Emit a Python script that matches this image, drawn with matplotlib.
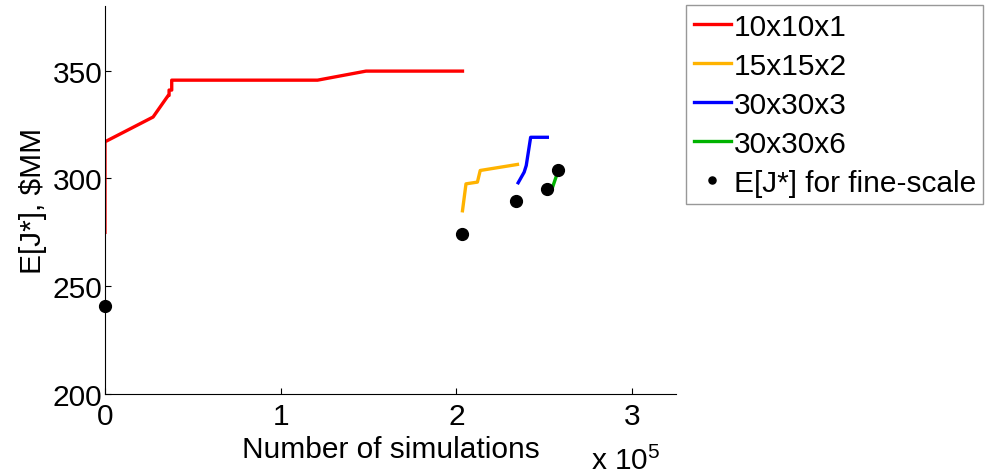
import matplotlib
matplotlib.use("Agg")
import matplotlib.pyplot as plt
from matplotlib.ticker import FixedLocator, FixedFormatter

plt.rcParams['font.family'] = ['Liberation Sans', 'DejaVu Sans']
plt.rcParams['mathtext.fontset'] = 'custom'
plt.rcParams['mathtext.rm'] = 'Liberation Sans'
plt.rcParams['mathtext.it'] = 'Liberation Sans'

# Optimisation history for each coarse grid: number of simulations vs. E[J*]
sims_10x10x1 = [0, 0, 27400, 36000, 36500, 36500, 38000, 38000, 121000, 148600, 203500]
ej_10x10x1 = [275, 317, 328.5, 338.5, 338.5, 341, 341, 345.6, 345.6, 349.8, 349.8]

sims_15x15x2 = [203500, 205500, 212000, 213600, 234800]
ej_15x15x2 = [285, 297.5, 298.3, 303.7, 306.5]

sims_30x30x3 = [235200, 238600, 239800, 242300, 251800]
ej_30x30x3 = [298, 302.9, 306, 319.1, 319.1]

sims_30x30x6 = [254600, 256900]
ej_30x30x6 = [295.5, 301]

# Fine-scale evaluation of the optimum found at each stage
sims_fine = [0, 203500, 234200, 251400, 258000]
ej_fine = [240.9, 274.3, 289.7, 295.2, 303.7]

x_ticks = [0, 100000, 200000, 300000]
x_tick_labels = ["0", "1", "2", "3"]
y_ticks = [200, 250, 300, 350]

FS = 21.5

fig = plt.figure(figsize=(9.93, 4.77), dpi=100)
ax = fig.add_axes([0.1057, 0.1719, 0.575, 0.8134])

lw = 2.4
ax.plot(sims_10x10x1, ej_10x10x1, color=(1, 0, 0), lw=lw, label="10x10x1")
ax.plot(sims_15x15x2, ej_15x15x2, color=(1, 0.7, 0), lw=lw, label="15x15x2")
ax.plot(sims_30x30x3, ej_30x30x3, color=(0, 0, 1), lw=lw, label="30x30x3")
ax.plot(sims_30x30x6, ej_30x30x6, color=(0, 0.7, 0), lw=lw, label="30x30x6")
ax.plot(sims_fine, ej_fine, linestyle="none", marker="o", markersize=8.5,
        color="black", label="E[J*] for fine-scale", clip_on=False, zorder=5)

ax.set_xlim(0, 325000)
ax.set_ylim(200, 380)
ax.xaxis.set_major_locator(FixedLocator(x_ticks))
ax.xaxis.set_major_formatter(FixedFormatter(x_tick_labels))
ax.yaxis.set_major_locator(FixedLocator(y_ticks))

for side in ("top", "right"):
    ax.spines[side].set_visible(False)
ax.tick_params(direction="in", length=4, labelsize=FS)
ax.tick_params(axis="x", pad=6)
ax.tick_params(axis="y", pad=2)

ax.set_xlabel("Number of simulations", fontsize=FS, labelpad=3)
ax.set_ylabel("E[J*], $MM", fontsize=FS, labelpad=4)
fig.text(660 / 993, 1 - 470 / 477, r"x 10$^{5}$", fontsize=FS,
         ha="right", va="baseline")

leg = fig.legend(loc="upper left", bbox_to_anchor=(0.691, 0.987),
                 borderaxespad=0, fontsize=FS, frameon=True, fancybox=False,
                 handlelength=1.24, handletextpad=0.1, labelspacing=0.37,
                 borderpad=0.25, markerscale=0.6)
leg.get_frame().set_edgecolor("#7f7f7f")
leg.get_frame().set_linewidth(1.0)

fig.savefig("out.png", dpi=100)
